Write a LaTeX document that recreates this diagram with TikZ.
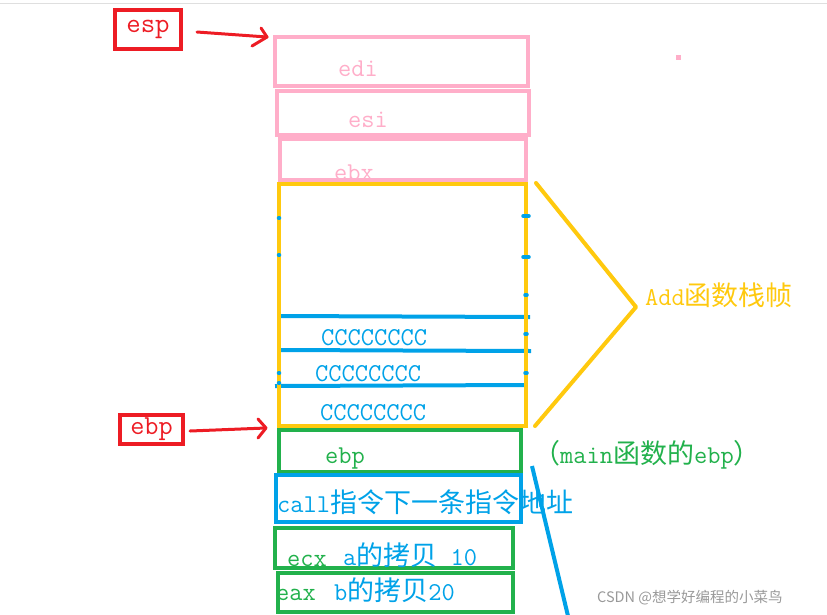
\documentclass[tikz,border=0pt]{standalone}
\usepackage{fontspec}
\newfontfamily\cjk[Scale=1.05]{Noto Sans CJK SC}
\newfontfamily\wm{Noto Sans CJK SC}
\usetikzlibrary{fit,arrows.meta}
\definecolor{pred}{RGB}{237,28,36}
\definecolor{ppink}{RGB}{255,174,201}
\definecolor{pyel}{RGB}{255,201,14}
\definecolor{pblue}{RGB}{0,162,232}
\definecolor{pgreen}{RGB}{34,177,76}
\tikzset{
  box/.style={draw, line width=4pt, inner sep=0pt},
  lbl/.style={inner sep=0pt, anchor=base west, font=\ttfamily\fontsize{25.7}{30}\selectfont},
  hand/.style={line width=3pt, line cap=round, line join=round},
  tick/.style={line width=3.5pt, pblue, line cap=round}
}
\begin{document}
\begin{tikzpicture}[x=1pt,y=-1pt]
\useasboundingbox (0,0) rectangle (827,614);
\draw[gray!25, line width=1pt] (0,3) -- (827,3);
% texts below boxes
\node[lbl, text=ppink] (tedi) at (338,76) {edi};
\node[lbl, text=ppink] (tesi) at (348,127) {esi};
\node[lbl, text=ppink] (tebx) at (334,180) {ebx};
% pink boxes
\node[box, ppink, fit={(275,37)(528,86)}] (edi) {};
\node[box, ppink, fit={(277,91)(529,135)}] (esi) {};
\node[box, ppink, fit={(280,139)(526,180)}] (ebx) {};
% blue lines inside yellow frame
\coordinate (l1a) at (278,316); \coordinate (l1b) at (530,317);
\coordinate (l2a) at (279,350); \coordinate (l2b) at (531,351);
\coordinate (l3a) at (275,386); \coordinate (l3b) at (526,385);
\draw[pblue, line width=4pt] (l1a) -- (l1b) (l2a) -- (l2b) (l3a) -- (l3b);
% yellow frame
\node[box, pyel, fit={(279,184)(526,426)}] (frame) {};
\foreach \y in {216,257} \draw[tick] (523,\y) -- (529,\y);
\foreach \y in {295,334,373} \draw[tick] (525,\y) -- (527,\y);
\foreach \y in {218,255,373,383} \draw[tick] (278.5,\y) -- (279.5,\y);
\node[lbl, text=pblue] (c1) at (321,345) {CCCCCCCC};
\node[lbl, text=pblue] (c2) at (315,381) {CCCCCCCC};
\node[lbl, text=pblue] (c3) at (320,420) {CCCCCCCC};
% yellow bracket
\coordinate (bt) at (536,183);
\coordinate (bm) at (636,307);
\coordinate (bb) at (535,426);
\draw[pyel, line width=4pt, line cap=round, line join=round] (bt) -- (bm) -- (bb);
\node[lbl, text=pyel] (addf) at (645,305) {Add{\cjk 函数栈帧}};
% lower boxes
\node[box, pgreen, fit={(279,430)(521,472)}] (ebpbox) {};
\node[lbl, text=pgreen] (tebp) at (325,463) {ebp};
\node[lbl, text=pgreen] (mainebp) at (533,463) {{\cjk （}main{\cjk 函数的}ebp{\cjk ）}};
\node[box, pblue, fit={(276,475)(521,522)}] (callbox) {};
\node[lbl, text=pblue] (tcall) at (277,512) {call{\cjk 指令下一条指令地址}};
\node[box, pgreen, fit={(275,528)(513,568)}] (ecxbox) {};
\node[lbl, text=pgreen] (tecx) at (287,566) {ecx};
\node[lbl, text=pblue] (ta) at (343,565) {a{\cjk 的拷贝} 10};
\node[box, pgreen, fit={(278,573)(513,612)}] (eaxbox) {};
\node[lbl, text=pgreen] (teax) at (276,600) {eax};
\node[lbl, text=pblue] (tb) at (334,600) {b{\cjk 的拷贝}20};
% long blue line
\coordinate (bl1) at (532,466);
\coordinate (bl2) at (568,616);
\draw[pblue, line width=4pt] (bl1) -- (bl2);
% red pointer boxes
\node[box, pred, line width=4.5pt, minimum width=66pt, minimum height=39pt, font=\ttfamily\fontsize{28}{32}\selectfont, text=pred] (esp) at (148,29.5) {esp};
\node[box, pred, line width=4.5pt, minimum width=63pt, minimum height=29pt, font=\ttfamily\fontsize{27.5}{31}\selectfont, text=pred] (ebp) at (151.5,429.5) {ebp};
% hand-drawn arrows
\coordinate (espS) at (197,32);
\coordinate (espT) at (267,37);
\draw[pred, hand] (espS) -- (espT);
\draw[pred, hand] (261,28) -- (espT) -- (252,46);
\coordinate (ebpS) at (190,431);
\coordinate (ebpT) at (266,428);
\draw[pred, hand] (ebpS) -- (ebpT);
\draw[pred, hand] (258,419) -- (ebpT) -- (258,438);
% pink dot
\fill[ppink] (676,55) rectangle (681,60);
% watermark
\node[inner sep=0pt, anchor=base west, text=gray!80, font=\wm\fontsize{14.5}{17}\selectfont] (wmk) at (597,602) {CSDN @想学好编程的小菜鸟};
\end{tikzpicture}
\end{document}
